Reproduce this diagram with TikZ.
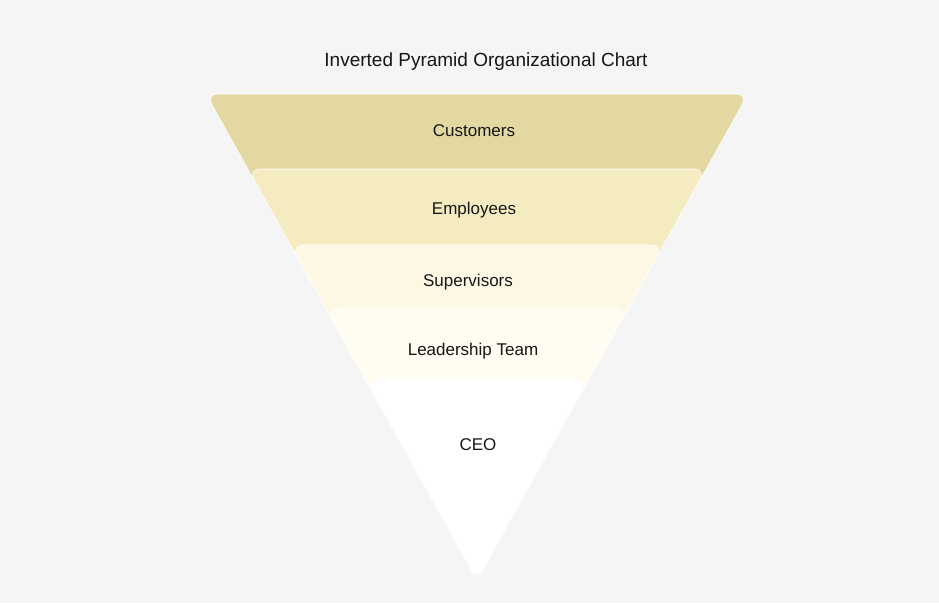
\documentclass[tikz,border=0pt]{standalone}
\usepackage{fontspec}
\setmainfont{Liberation Sans}
\usepackage{tikz}
\definecolor{bgcol}{HTML}{F5F5F5}
\definecolor{custcol}{HTML}{E3D8A1}
\definecolor{empcol}{HTML}{F5EBC0}
\definecolor{supcol}{HTML}{FCF8E4}
\definecolor{leadcol}{HTML}{FFFDF2}
\definecolor{ceocol}{HTML}{FFFFFF}
\definecolor{inkcol}{HTML}{161616}
\newcommand{\layer}[2]{
  \filldraw [fill=#1, draw=white, line width=0.6pt, rounded corners=12pt]
    ({206+0.562*(#2-94)},#2) -- ({748-0.562*(#2-94)},#2) -- (477,580) -- cycle
}

\begin{document}
\begin{tikzpicture}[x=1pt,y=-1pt,
  lbl/.style={text=inkcol,font=\fontsize{17}{20}\selectfont},
  ttl/.style={text=inkcol,font=\fontsize{19}{22}\selectfont}]
% background
\fill [bgcol] (0,0) rectangle (939,603);
\useasboundingbox (0,0) rectangle (939,603);

% layers, top down
\layer {custcol} {94};
\layer {empcol} {169};
\layer {supcol} {245};
\layer {leadcol} {308};
\layer {ceocol} {380};

% title
\node [ttl] (T) at (486,62) {Inverted Pyramid Organizational Chart};

% labels
\node [lbl] (L1) at (474,131) {Customers};
\node [lbl] (L2) at (474,210) {Employees};
\node [lbl] (L3) at (468,282) {Supervisors};
\node [lbl] (L4) at (473,351) {Leadership Team};
\node [lbl] (L5) at (478,445) {CEO};

\end{tikzpicture}
\end{document}
